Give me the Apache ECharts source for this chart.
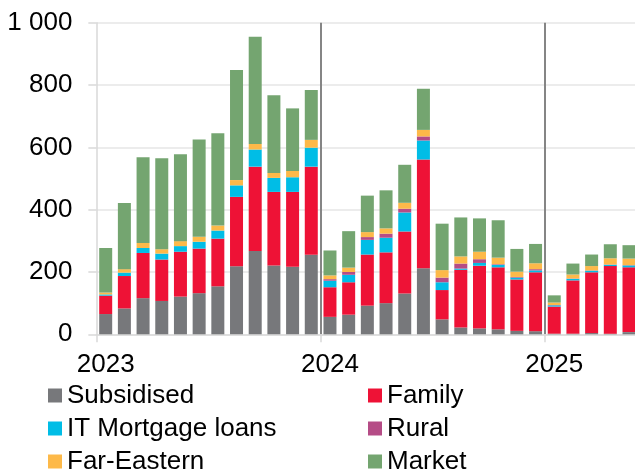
<!DOCTYPE html>
<html>
<head>
<meta charset="utf-8">
<title>Mortgage issuance by programme</title>
<script src="https://cdn.jsdelivr.net/npm/echarts@6/dist/echarts.min.js"></script>
<style>
  html, body { margin: 0; padding: 0; background: #ffffff; }
  #chart { width: 635px; height: 473px; }
</style>
</head>
<body>
<div id="chart"></div>
<script>
// Months, Jan 2023 .. May 2025
const months = [
  '2023-01','2023-02','2023-03','2023-04','2023-05','2023-06','2023-07','2023-08','2023-09','2023-10','2023-11','2023-12',
  '2024-01','2024-02','2024-03','2024-04','2024-05','2024-06','2024-07','2024-08','2024-09','2024-10','2024-11','2024-12',
  '2025-01','2025-02','2025-03','2025-04','2025-05'
];

// Monthly volumes by programme
const subsidised = [65, 83, 116, 107, 121, 132, 154, 218, 267, 221, 217, 255,
                    56, 63, 92, 100, 131, 212, 48, 22, 19, 16, 11, 10,
                    2, 2, 4, 2, 7];
const family     = [59, 104, 145, 133, 144, 143, 153, 223, 271, 236, 240, 283,
                    95, 104, 164, 163, 199, 349, 94, 185, 201, 199, 165, 189,
                    87, 171, 195, 217, 208];
const itMortgage = [4, 11, 16, 19, 18, 22, 26, 37, 55, 45, 47, 61,
                    21, 24, 47, 47, 61, 61, 25, 4, 9, 8, 6, 6,
                    4, 5, 5, 4, 6];
const rural      = [0, 0, 0, 0, 0, 0, 0, 0, 0, 0, 0, 0,
                    5, 9, 9, 13, 12, 13, 15, 16, 12, 2, 2, 4,
                    1, 1, 1, 1, 1];
const farEastern = [6, 11, 16, 14, 16, 16, 16, 17, 18, 16, 20, 25,
                    12, 14, 16, 17, 19, 21, 24, 23, 24, 21, 17, 19,
                    8, 13, 14, 20, 21];
const market     = [143, 212, 275, 292, 279, 312, 296, 353, 344, 249, 201, 160,
                    80, 117, 117, 122, 122, 132, 149, 125, 107, 120, 73, 62,
                    23, 35, 37, 45, 43];

// Value axis ticks
const yMin = 0, yMax = 1000, yStep = 200;

const seriesDefs = [
  { name: 'Subsidised',        data: subsidised, color: '#77787b' },
  { name: 'Family',            data: family,     color: '#ee1236' },
  { name: 'IT Mortgage loans', data: itMortgage, color: '#00bde6' },
  { name: 'Rural',             data: rural,      color: '#b54c86' },
  { name: 'Far-Eastern',       data: farEastern, color: '#fdb949' },
  { name: 'Market',            data: market,     color: '#74a570' }
];

const FONT = "'Liberation Sans', Arial, sans-serif";
const FONT_SIZE = 26;
const isYearStart = (i) => i % 12 === 0;

const legendText = { fontSize: FONT_SIZE, color: '#000', fontFamily: FONT, lineHeight: 27 };
const legendBase = {
  orient: 'vertical',
  icon: 'rect',
  itemWidth: 14,
  itemHeight: 14,
  itemGap: 6,
  padding: 0,
  height: 140,
  textStyle: legendText,
  selectedMode: false
};

const chart = echarts.init(document.getElementById('chart'), null, { renderer: 'canvas' });
chart.setOption({
  animation: false,
  backgroundColor: '#ffffff',
  textStyle: { fontFamily: FONT },
  // the last month runs past the right edge of the canvas
  grid: { left: 96.35, top: 22.7, width: 542, height: 311.6, containLabel: false, outerBoundsMode: 'none' },
  legend: [
    Object.assign({}, legendBase, { left: 48, top: 382, data: ['Subsidised', 'IT Mortgage loans', 'Far-Eastern'] }),
    Object.assign({}, legendBase, { left: 368, top: 382, data: ['Family', 'Rural', 'Market'] })
  ],
  xAxis: {
    type: 'category',
    data: months,
    boundaryGap: true,
    axisLine: { show: true, lineStyle: { color: '#d9d9d9', width: 1.5 } },
    axisTick: { show: true, interval: (i) => isYearStart(i), length: 8, lineStyle: { color: '#d9d9d9', width: 1.5 } },
    axisLabel: {
      interval: (i) => isYearStart(i),
      formatter: (v) => v.slice(0, 4),
      fontSize: FONT_SIZE, color: '#000', fontFamily: FONT, margin: 18
    },
    splitLine: {
      show: true,
      interval: (i) => i === 12 || i === 24,
      lineStyle: { color: '#858585', width: 2 }
    }
  },
  yAxis: {
    type: 'value',
    min: yMin, max: yMax, interval: yStep,
    axisLine: { show: true, lineStyle: { color: '#d9d9d9', width: 1.5 } },
    axisTick: { show: true, length: 8, lineStyle: { color: '#d9d9d9', width: 1.5 } },
    axisLabel: {
      fontSize: FONT_SIZE, color: '#000', fontFamily: FONT, margin: 24,
      formatter: (v) => String(v).replace(/\B(?=(\d{3})+(?!\d))/g, ' ')
    },
    splitLine: { show: true, lineStyle: { color: '#ececec', width: 2 } }
  },
  series: seriesDefs.map((s) => ({
    name: s.name,
    type: 'bar',
    stack: 'total',
    data: s.data,
    barWidth: 13,
    itemStyle: { color: s.color },
    emphasis: { disabled: true }
  }))
});
</script>
</body>
</html>
